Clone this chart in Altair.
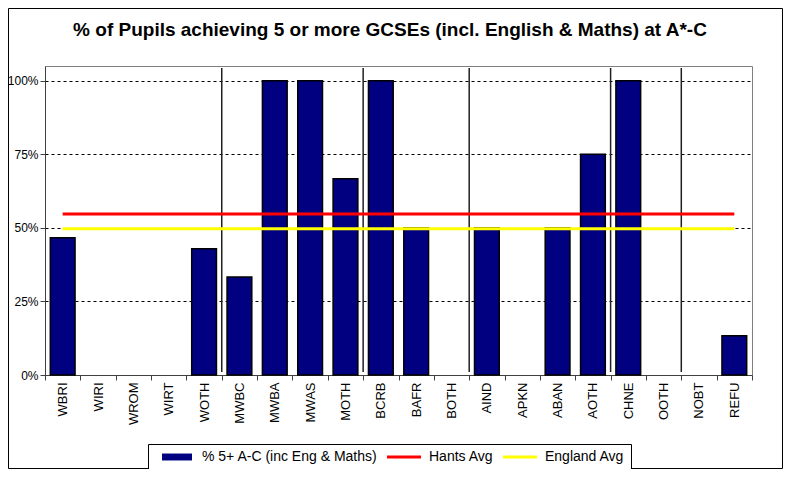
import altair as alt
import pandas as pd

categories = ["WBRI", "WIRI", "WROM", "WIRT", "WOTH", "MWBC", "MWBA", "MWAS", "MOTH", "BCRB",
              "BAFR", "BOTH", "AIND", "APKN", "ABAN", "AOTH", "CHNE", "OOTH", "NOBT", "REFU"]
pct_5ac = [0.466, None, None, None, 0.429, 0.333, 1.0, 1.0, 0.667, 1.0,
           0.50, None, 0.50, None, 0.50, 0.75, 1.0, None, None, 0.133]
hants_avg = 0.547
england_avg = 0.497
group_starts = ["MWBC", "BCRB", "AIND", "CHNE", "NOBT"]
series_names = ["% 5+ A-C (inc Eng & Maths)", "Hants Avg", "England Avg"]
series_colors = ["#000080", "#FF0000", "#FFFF00"]
series_shapes = ["M-2.5,-0.58L2.5,-0.58L2.5,0.58L-2.5,0.58Z",
                 "M-2.83,-0.25L2.83,-0.25L2.83,0.25L-2.83,0.25Z",
                 "M-2.83,-0.25L2.83,-0.25L2.83,0.25L-2.83,0.25Z"]
title_text = "% of Pupils achieving 5 or more GCSEs (incl. English & Maths) at A*-C"

W, H = 707, 309
FONT = "Liberation Sans"

bars_df = pd.DataFrame({"cat": categories, "value": pct_5ac}).dropna()
hants_df = pd.DataFrame({"cat": categories, "value": [hants_avg] * len(categories)})
eng_df = pd.DataFrame({"cat": categories, "value": [england_avg] * len(categories)})
sep_df = pd.DataFrame({"cat": group_starts})
leg_df = pd.DataFrame({"series": series_names})
one_df = pd.DataFrame({"a": [0]})

xscale = alt.Scale(domain=categories, paddingInner=0, paddingOuter=0)
yscale = alt.Scale(domain=[0, 1.05], nice=False)

xaxis = alt.Axis(title=None, labelAngle=270, labelFont=FONT, labelFontSize=13, labelColor="black",
                 tickBand="extent", tickSize=5, tickColor="#404040", domainColor="#404040",
                 labelPadding=2, grid=False)
yaxis = alt.Axis(title=None, values=[0, 0.25, 0.5, 0.75, 1.0], format=".0%", labelFont=FONT,
                 labelFontSize=12, labelColor="black", tickSize=5, tickColor="#404040",
                 domainColor="#404040", labelPadding=2, grid=True, gridColor="black",
                 gridDash=[3, 3], gridWidth=1)

x_enc = alt.X("cat:N", scale=xscale, axis=xaxis, sort=categories)
y_enc = alt.Y("value:Q", scale=yscale, axis=yaxis)

border = alt.Chart(one_df).mark_rect(
    fillOpacity=0, stroke="black", strokeWidth=1
).encode(x=alt.value(-36.5), x2=alt.value(W + 30.5), y=alt.value(-57.5), y2=alt.value(H + 93.5))

title = alt.Chart(one_df).mark_text(
    font=FONT, fontSize=19, fontWeight="bold", color="black", align="center", baseline="middle"
).encode(x=alt.value(345), y=alt.value(-36), text=alt.value(title_text))

bars = alt.Chart(bars_df).mark_bar(
    color="#000080", stroke="black", strokeWidth=1.5, width=alt.RelativeBandSize(0.7)
).encode(x=x_enc, y=y_enc)

seps = alt.Chart(sep_df).mark_rule(color="#202020", strokeWidth=1.5).encode(
    x=alt.X("cat:N", scale=xscale, sort=categories, bandPosition=0),
    y=alt.value(2), y2=alt.value(H - 3)
)

hants = alt.Chart(hants_df).mark_line(color="#FF0000", strokeWidth=3).encode(x=x_enc, y=y_enc)
eng = alt.Chart(eng_df).mark_line(color="#FFFF00", strokeWidth=3).encode(x=x_enc, y=y_enc)

legend = alt.Chart(leg_df).transform_filter("false").mark_point(filled=True, opacity=1).encode(
    color=alt.Color("series:N", scale=alt.Scale(domain=series_names, range=series_colors),
                    legend=alt.Legend(title=None, orient="none", legendX=103, legendY=378,
                                      direction="horizontal", columns=3, symbolSize=144,
                                      symbolOffset=16, labelOffset=18, labelLimit=400,
                                      labelFont=FONT, labelFontSize=14, labelColor="black",
                                      strokeColor="black", fillColor="white", padding=6,
                                      columnPadding=3, symbolOpacity=1)),
    shape=alt.Shape("series:N", scale=alt.Scale(domain=series_names, range=series_shapes))
)

chart = alt.layer(border, title, bars, seps, eng, hants, legend).properties(
    width=W, height=H,
    autosize=alt.AutoSizeParams(type="none"),
    padding={"left": 37, "top": 58, "right": 31, "bottom": 94},
).configure_view(stroke="#808080", strokeWidth=1)

chart.save("out.html", embed_options={"renderer": "svg", "actions": False})
